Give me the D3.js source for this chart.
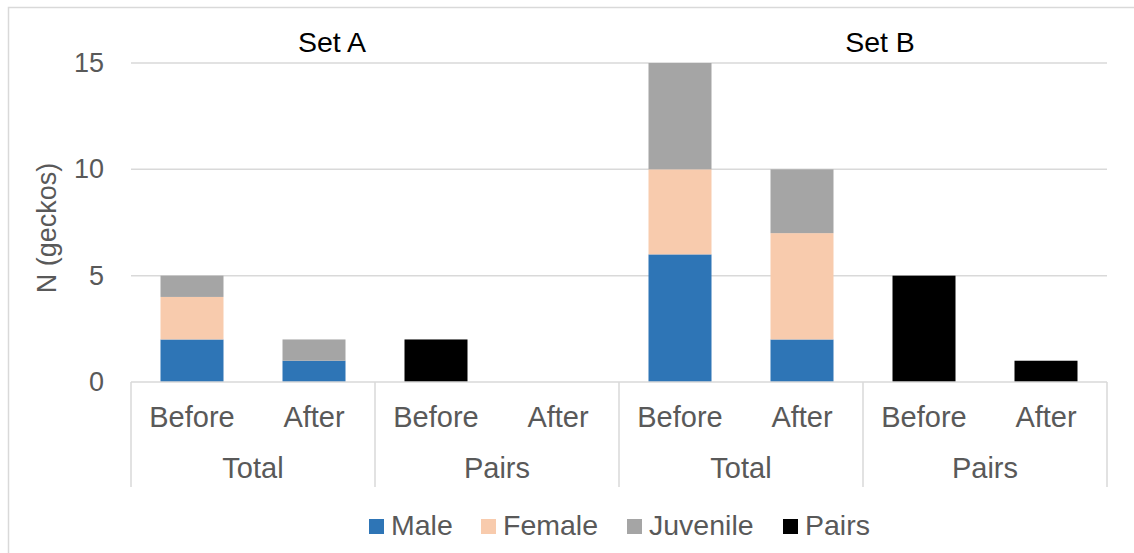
<!DOCTYPE html>
<html>
<head>
<meta charset="utf-8">
<script src="https://cdn.jsdelivr.net/npm/d3@7"></script>
<style>
  html, body { margin: 0; padding: 0; background: #fff; }
  svg { display: block; font-family: "Liberation Sans", Arial, sans-serif; }
</style>
</head>
<body>
<svg id="chart" width="1134" height="553"></svg>
<script>
// Gecko counts per set, grouping and phase
const sets = ["Set A", "Set B"];
const groups = ["Total", "Pairs"];
const phases = ["Before", "After"];

const seriesNames = ["Male", "Female", "Juvenile", "Pairs"];
const seriesColors = ["#2E75B6", "#F8CBAD", "#A5A5A5", "#000000"];

// Stacked counts for the "Total" bars: [Before, After] per set
const maleTotal     = { "Set A": [2, 1], "Set B": [6, 2] };
const femaleTotal   = { "Set A": [2, 0], "Set B": [4, 5] };
const juvenileTotal = { "Set A": [1, 1], "Set B": [5, 3] };
// Counts for the "Pairs" bars: [Before, After] per set
const pairsCount    = { "Set A": [2, 0], "Set B": [5, 1] };

const yTicks = [0, 5, 10, 15];

// Build one row per bar position
const rows = [];
sets.forEach(s => groups.forEach(g => phases.forEach((p, i) => {
  const r = { key: `${s}|${g}|${p}`, set: s, group: g, phase: p,
              Male: 0, Female: 0, Juvenile: 0, Pairs: 0 };
  if (g === "Total") {
    r.Male = maleTotal[s][i];
    r.Female = femaleTotal[s][i];
    r.Juvenile = juvenileTotal[s][i];
  } else {
    r.Pairs = pairsCount[s][i];
  }
  rows.push(r);
})));

const svg = d3.select("#chart");
const plot = { left: 131, right: 1107, top: 63, bottom: 382 };

// Chart frame
svg.append("rect")
  .attr("x", 8.5).attr("y", 7.5)
  .attr("width", 1200).attr("height", 600)
  .attr("fill", "none").attr("stroke", "#D9D9D9").attr("stroke-width", 1.5);

const x = d3.scaleBand()
  .domain(rows.map(r => r.key))
  .range([plot.left, plot.right])
  .paddingInner(59 / 122)
  .paddingOuter(59 / 244);

const y = d3.scaleLinear().domain([0, 15]).range([plot.bottom, plot.top]);

// Gridlines
svg.append("g")
  .selectAll("line")
  .data(yTicks.filter(t => t > 0))
  .join("line")
  .attr("x1", plot.left).attr("x2", plot.right)
  .attr("y1", d => y(d)).attr("y2", d => y(d))
  .attr("stroke", "#D9D9D9").attr("stroke-width", 1.5);

// Y axis labels
const yAxis = d3.axisLeft(y).tickValues(yTicks).tickSize(0).tickPadding(0);
const yg = svg.append("g").attr("transform", `translate(${plot.left - 27},0)`).call(yAxis);
yg.select(".domain").remove();
yg.selectAll("text")
  .attr("font-size", 27).attr("fill", "#595959")
  .attr("font-family", "Liberation Sans, Arial, sans-serif");

// Y axis title
svg.append("text")
  .attr("transform", `translate(56,228) rotate(-90)`)
  .attr("text-anchor", "middle")
  .attr("font-size", 27).attr("fill", "#595959")
  .text("N (geckos)");

// Stacked bars
const stack = d3.stack().keys(seriesNames);
const layers = stack(rows);
const color = d3.scaleOrdinal().domain(seriesNames).range(seriesColors);

svg.append("g")
  .selectAll("g")
  .data(layers)
  .join("g")
  .attr("fill", d => color(d.key))
  .selectAll("rect")
  .data(d => d.filter(v => v[1] - v[0] > 0))
  .join("rect")
  .attr("x", d => x(d.data.key))
  .attr("width", x.bandwidth())
  .attr("y", d => y(d[1]))
  .attr("height", d => y(d[0]) - y(d[1]));

// Category axis: baseline, group dividers and labels
svg.append("line")
  .attr("x1", plot.left).attr("x2", plot.right)
  .attr("y1", plot.bottom).attr("y2", plot.bottom)
  .attr("stroke", "#D9D9D9").attr("stroke-width", 1.5);

const groupKeys = [];
sets.forEach(s => groups.forEach(g => groupKeys.push(`${s}|${g}`)));
const xGroup = d3.scaleBand().domain(groupKeys).range([plot.left, plot.right]);

const dividers = groupKeys.map(k => xGroup(k)).concat([plot.right]);
svg.append("g")
  .selectAll("line")
  .data(dividers)
  .join("line")
  .attr("x1", d => d).attr("x2", d => d)
  .attr("y1", plot.bottom).attr("y2", 487)
  .attr("stroke", "#D9D9D9").attr("stroke-width", 1.5);

svg.append("g")
  .selectAll("text")
  .data(rows)
  .join("text")
  .attr("x", d => x(d.key) + x.bandwidth() / 2)
  .attr("y", 427)
  .attr("text-anchor", "middle")
  .attr("font-size", 29).attr("fill", "#595959")
  .text(d => d.phase);

svg.append("g")
  .selectAll("text")
  .data(groupKeys)
  .join("text")
  .attr("x", d => xGroup(d) + xGroup.bandwidth() / 2)
  .attr("y", 478)
  .attr("text-anchor", "middle")
  .attr("font-size", 29).attr("fill", "#595959")
  .text(d => d.split("|")[1]);

// Set titles
const setLabelX = { "Set A": 332, "Set B": 880 };
svg.append("g")
  .selectAll("text")
  .data(sets)
  .join("text")
  .attr("x", d => setLabelX[d])
  .attr("y", 52)
  .attr("text-anchor", "middle")
  .attr("font-size", 28.5).attr("fill", "#000")
  .text(d => d);

// Legend
const legendX = [369, 481, 627, 783];
const lg = svg.append("g")
  .selectAll("g")
  .data(seriesNames)
  .join("g")
  .attr("transform", (d, i) => `translate(${legendX[i]},519)`);
lg.append("rect")
  .attr("width", 15).attr("height", 15)
  .attr("fill", d => color(d));
lg.append("text")
  .attr("x", 22).attr("y", 16)
  .attr("font-size", 28.5).attr("fill", "#595959")
  .text(d => d);
</script>
</body>
</html>
